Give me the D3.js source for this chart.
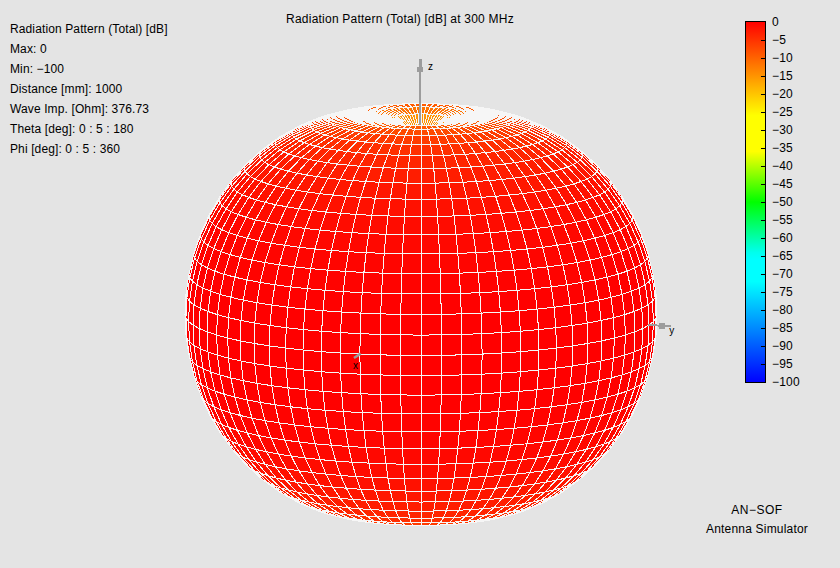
<!DOCTYPE html>
<html><head><meta charset="utf-8">
<script src="https://cdn.jsdelivr.net/npm/d3@7/dist/d3.min.js"></script>
<style>
html,body{margin:0;padding:0;background:#e4e4e4}
text{font-family:"Liberation Sans",Arial,sans-serif;font-size:12px;fill:#000}
</style></head><body>
<svg id="c" width="840" height="568" style="display:block"></svg>
<script>
// Total gain in dB, per theta step (0..180 by 5)
const thetaValues = [0,5,10,15,20,25,30,35,40,45,50,55,60,65,70,75,80,85,90,95,100,105,110,115,120,125,130,135,140,145,150,155,160,165,170,175,180];
const gainDb = [-100,-21,-15,-11.7,-9.3,-7.5,-6,-4.8,-3.8,-3,-2.3,-1.7,-1.25,-.85,-.55,-.3,-.13,-.03,0,-.03,-.13,-.3,-.55,-.85,-1.25,-1.7,-2.3,-3,-3.8,-4.8,-6,-7.5,-9.3,-11.7,-15,-21,-100];
const phiValues = d3.range(0,365,5);
const infoLines = ["Radiation Pattern (Total) [dB]","Max: 0","Min: \u2212100","Distance [mm]: 1000","Wave Imp. [Ohm]: 376.73","Theta [deg]: 0 : 5 : 180","Phi [deg]: 0 : 5 : 360"];
const colorTicks = d3.range(0,-105,-5);
const colorDomain = [0,-26,-36,-50,-65,-72,-100];
const colorRange = ["#ff0000","#ffff00","#ffff00","#00ff00","#00ffff","#00ffff","#0000ff"];
const title = "Radiation Pattern (Total) [dB] at 300 MHz";
const credit = ["AN\u2212SOF","Antenna Simulator"];

const svg = d3.select("#c");
const W=840,H=568;
svg.append("rect").attr("width",W).attr("height",H).attr("fill","#e4e4e4");

const color = d3.scaleLinear().domain(colorDomain).range(colorRange).clamp(true);
const radius = d3.scaleLinear().domain([-100,0]).range([0,236]);
const axisLen = 259;
const cx=421, cy=314.5;
const az=15*Math.PI/180, el=10*Math.PI/180;
function proj(x,y,z){
  const u = -x*Math.sin(az)+y*Math.cos(az);
  const d0 = x*Math.cos(az)+y*Math.sin(az);
  const v = z*Math.cos(el)-d0*Math.sin(el);
  const d = d0*Math.cos(el)+z*Math.sin(el);
  return [cx+u, cy-v, d];
}
const rad=d=>d*Math.PI/180;
function surf(i,j){
  const t=rad(thetaValues[i]),p=rad(phiValues[j]),r=radius(gainDb[i]);
  return proj(r*Math.sin(t)*Math.cos(p),r*Math.sin(t)*Math.sin(p),r*Math.cos(t));
}
const cells=[];
for(let i=0;i<thetaValues.length-1;i++)for(let j=0;j<phiValues.length-1;j++){
  const pts=[surf(i,j),surf(i+1,j),surf(i+1,j+1),surf(i,j+1)];
  cells.push({pts,depth:d3.mean(pts,q=>q[2]),db:Math.max(gainDb[i],gainDb[i+1])});
}
cells.sort((a,b)=>a.depth-b.depth);
const line=d3.line().x(d=>d[0]).y(d=>d[1]).curve(d3.curveLinearClosed);

const axisColor="#9c9c9c";
svg.append("g").attr("shape-rendering","crispEdges").selectAll("path").data(cells).join("path")
  .attr("d",d=>line(d.pts))
  .attr("fill",d=>color(d.db))
  .attr("stroke","#f6f6f6").attr("stroke-width",1);

// visible axis parts
const front=svg.append("g").attr("shape-rendering","crispEdges");
function seg(a,b,w){front.append("line").attr("x1",a[0]).attr("y1",a[1]).attr("x2",b[0]).attr("y2",b[1]).attr("stroke",axisColor).attr("stroke-width",w);}
const zt=proj(0,0,axisLen),yt=proj(0,axisLen,0),xt=proj(axisLen,0,0);
seg([zt[0]-1,zt[1]],[zt[0]-1,125],2);
seg([zt[0]-1,zt[1]],[zt[0]-1,zt[1]+8],3);
seg([zt[0]-1,zt[1]+8],[zt[0]-1,zt[1]+13],6);
seg(proj(0,axisLen-24,0),yt,2);
seg([yt[0]-12,yt[1]],[yt[0]-6,yt[1]],6);
svg.append("line").attr("x1",proj(axisLen-26,0,0)[0]).attr("y1",proj(axisLen-26,0,0)[1]).attr("x2",xt[0]).attr("y2",xt[1]).attr("stroke",axisColor).attr("stroke-width",2.5);
svg.append("text").attr("x",zt[0]+7).attr("y",zt[1]+11).style("font-size","10px").text("z");
svg.append("text").attr("x",yt[0]-2).attr("y",yt[1]+8).style("font-size","10px").text("y");
svg.append("text").attr("x",xt[0]-1).attr("y",xt[1]+11).style("font-size","10px").text("x");

// title and info
svg.append("text").attr("x",400).attr("y",23).attr("text-anchor","middle").attr("letter-spacing","0.22px").text(title);
svg.append("g").selectAll("text").data(infoLines).join("text").attr("x",10).attr("y",(d,i)=>33+i*20).attr("letter-spacing","0.12px").text(d=>d);

// color bar
const barY=d3.scaleLinear().domain([0,-100]).range([22,382]);
const defs=svg.append("defs");
const grad=defs.append("linearGradient").attr("id","cb").attr("x1",0).attr("x2",0).attr("y1",0).attr("y2",1);
d3.range(0,-101,-2).forEach(v=>grad.append("stop").attr("offset",(-v/100)).attr("stop-color",color(v)));
svg.append("rect").attr("x",745.5).attr("y",barY(0)-.5).attr("width",20).attr("height",barY(-100)-barY(0)+1).attr("fill","url(#cb)").attr("stroke","#000");
const axis=d3.axisRight(barY).tickValues(colorTicks).tickSize(0).tickFormat(d=>String(d).replace("-","\u2212"));
const ag=svg.append("g").attr("transform","translate(765,0)").call(axis);
ag.select(".domain").remove();
ag.selectAll("text").attr("x",7).attr("dy","0.32em").attr("letter-spacing","0.2px").style("font-family",'"Liberation Sans",Arial,sans-serif').style("font-size","12px").style("fill","#000");
ag.selectAll(".tick").filter(d=>d!==0&&d!==-100).append("line").attr("x1",-4).attr("x2",0).attr("stroke","#000");

svg.append("g").selectAll("text").data(credit).join("text").attr("x",757).attr("text-anchor","middle")
  .attr("y",(d,i)=>514+i*18.5).attr("letter-spacing",(d,i)=>i?"0.2px":"0.5px").text(d=>d);
</script></body></html>
